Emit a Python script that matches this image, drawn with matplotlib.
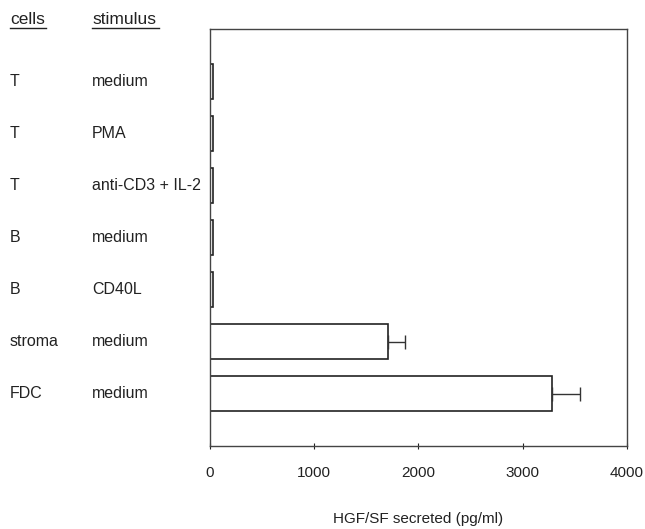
import matplotlib
matplotlib.use("Agg")
import matplotlib.pyplot as plt
from matplotlib.transforms import blended_transform_factory

cells = ["T", "T", "T", "B", "B", "stroma", "FDC"]
stimulus = ["medium", "PMA", "anti-CD3 + IL-2", "medium", "CD40L", "medium", "medium"]
hgf_values = [30, 30, 35, 30, 30, 1707, 3281]
hgf_errors = [0, 0, 0, 0, 0, 170, 265]
x_ticks = [0, 1000, 2000, 3000, 4000]

plt.rcParams['font.family'] = ['Liberation Sans', 'DejaVu Sans']

fig = plt.figure(figsize=(6.45, 5.29), dpi=100)
ax = fig.add_axes([0.325, 0.157, 0.647, 0.788])

pos = list(range(len(cells)))
ax.barh(pos, hgf_values, height=0.67, color="white", edgecolor="#222222", linewidth=1.2)
for p, v, e in zip(pos, hgf_values, hgf_errors):
    if e > 0:
        ax.errorbar(v, p, xerr=[[0], [e]], fmt="none", ecolor="#333333",
                    elinewidth=1.0, capsize=5, capthick=1.0)

ax.set_xlim(0, 4000)
ax.set_ylim(7, -1)
ax.set_yticks([])
ax.set_xticks(x_ticks)
ax.set_xticklabels([str(t) for t in x_ticks])
ax.tick_params(axis="x", direction="inout", length=5, width=0.8, pad=12,
               labelsize=11, colors="#222222")
for s in ax.spines.values():
    s.set_color("#444444")
    s.set_linewidth(1.0)
ax.set_xlabel("HGF/SF secreted (pg/ml)", fontsize=11, labelpad=23, color="#222222")

tr = blended_transform_factory(fig.transFigure, ax.transData)
for p, c, s in zip(pos, cells, stimulus):
    ax.text(10 / 645, p, c, transform=tr, ha="left", va="center", fontsize=11.5, color="#222222")
    ax.text(92 / 645, p, s, transform=tr, ha="left", va="center", fontsize=11.5, color="#222222")

fig.text(10 / 645, 1 - 19 / 529, "cells", ha="left", va="center", fontsize=12.5, color="#222222")
fig.text(92 / 645, 1 - 19 / 529, "stimulus", ha="left", va="center", fontsize=12.5, color="#222222")
# underlines
fig.add_artist(plt.Line2D([10 / 645, 46 / 645], [1 - 28 / 529, 1 - 28 / 529], color="#222222", linewidth=1.0))
fig.add_artist(plt.Line2D([92 / 645, 159 / 645], [1 - 28 / 529, 1 - 28 / 529], color="#222222", linewidth=1.0))

fig.savefig("out.png", dpi=100)
